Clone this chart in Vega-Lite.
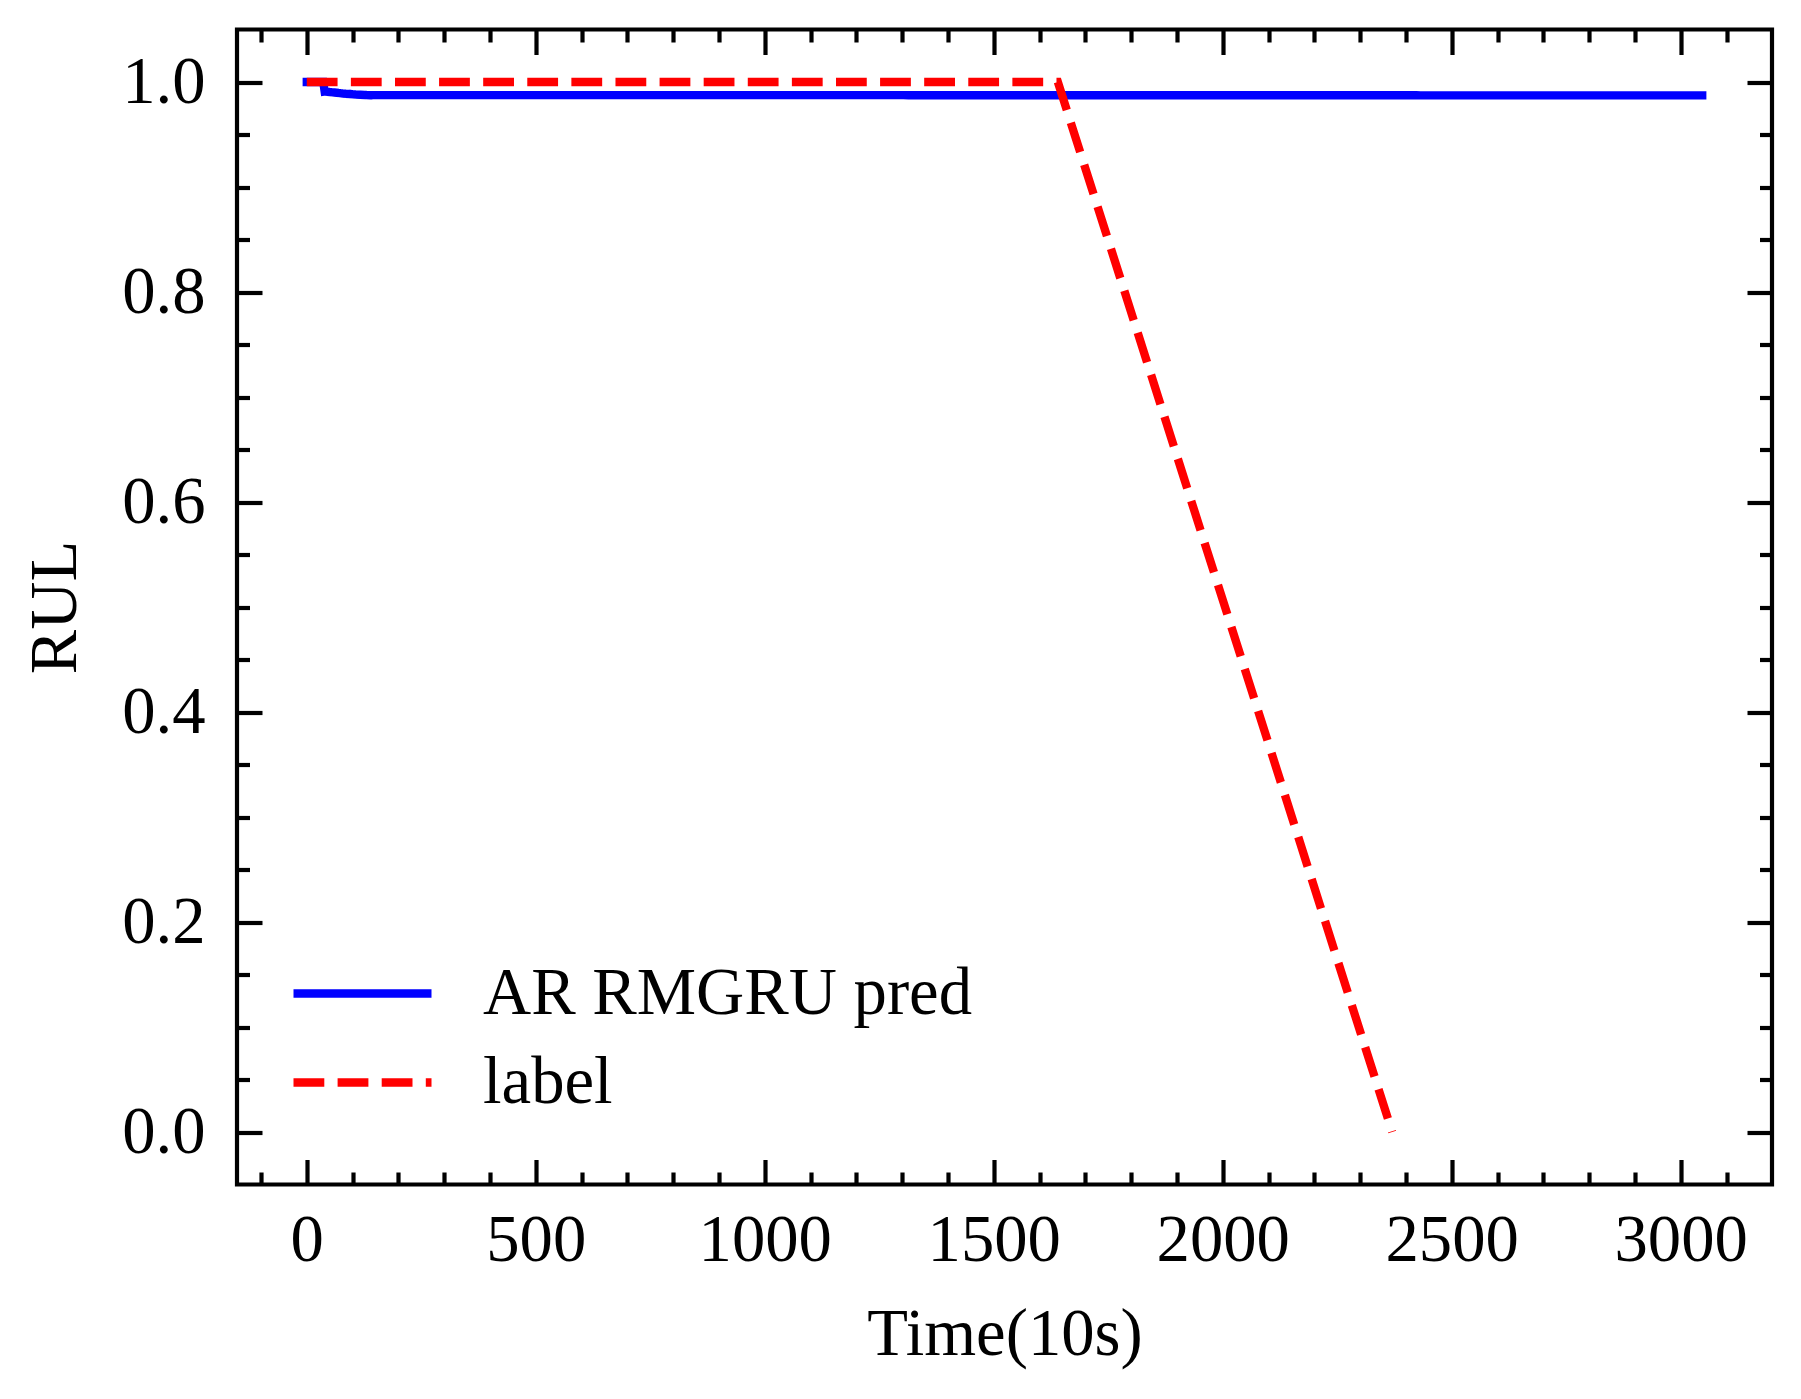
{
  "$schema": "https://vega.github.io/schema/vega-lite/v6.json",
  "autosize": {"type": "none"},
  "width": 1535,
  "height": 1155,
  "padding": {"left": 237, "top": 29.5, "right": 29, "bottom": 214.5},
  "background": "white",
  "config": {
    "view": {"stroke": "black", "strokeWidth": 4.2},
    "axis": {
      "domain": false,
      "grid": false,
      "tickColor": "black",
      "tickWidth": 4.2,
      "labelFont": "Liberation Serif",
      "labelFontSize": 66.7,
      "labelColor": "black",
      "titleFont": "Liberation Serif",
      "titleFontSize": 66.7,
      "titleFontWeight": "normal",
      "titleColor": "black"
    },
    "legend": {
      "orient": "none", "legendX": 52, "legendY": 925, "title": null, "padding": 0,
      "symbolType": "M-1,0H3", "symbolSize": 4761, "symbolStrokeWidth": 8.33,
      "labelFont": "Liberation Serif", "labelFontSize": 66.7, "labelColor": "black",
      "labelOffset": 116, "rowPadding": 16, "labelLimit": 1000
    }
  },
  "data": {
    "values": [
      {"t": 0, "rul": 1.0, "series": "AR RMGRU pred"},
      {"t": 36, "rul": 1.0, "series": "AR RMGRU pred"},
      {"t": 39, "rul": 0.991, "series": "AR RMGRU pred"},
      {"t": 60, "rul": 0.990, "series": "AR RMGRU pred"},
      {"t": 85, "rul": 0.9888, "series": "AR RMGRU pred"},
      {"t": 110, "rul": 0.988, "series": "AR RMGRU pred"},
      {"t": 135, "rul": 0.9875, "series": "AR RMGRU pred"},
      {"t": 3047, "rul": 0.9873, "series": "AR RMGRU pred"},
      {"t": 0, "rul": 1.0, "series": "label"},
      {"t": 1640, "rul": 1.0, "series": "label"},
      {"t": 2370, "rul": 0.0, "series": "label"}
    ]
  },
  "encoding": {
    "x": {"field": "t", "type": "quantitative", "scale": {"domain": [-152.35, 3199.35], "nice": false, "zero": false}},
    "y": {"field": "rul", "type": "quantitative", "scale": {"domain": [-0.05, 1.05], "nice": false, "zero": false}},
    "color": {
      "field": "series", "type": "nominal",
      "scale": {"domain": ["AR RMGRU pred", "label"], "range": ["#0000ff", "#ff0000"]}
    },
    "strokeDash": {
      "field": "series", "type": "nominal",
      "scale": {"domain": ["AR RMGRU pred", "label"], "range": [[1, 0], [30.8, 13.3]]}
    }
  },
  "layer": [
    {
      "transform": [{"filter": "datum.series === 'AR RMGRU pred'"}],
      "mark": {"type": "line", "strokeWidth": 8.33, "strokeCap": "square", "clip": true},
      "encoding": {
        "x": {"field": "t", "type": "quantitative", "axis": {"orient": "bottom", "values": [0, 500, 1000, 1500, 2000, 2500, 3000], "format": "d", "tickSize": -25, "labelPadding": 48, "title": "Time(10s)", "titlePadding": 27}},
        "y": {"field": "rul", "type": "quantitative", "axis": {"orient": "left", "values": [0, 0.2, 0.4, 0.6, 0.8, 1.0], "format": ".1f", "tickSize": -25, "labelPadding": 57, "title": "RUL", "titlePadding": 32}}
      }
    },
    {
      "transform": [{"filter": "datum.series === 'label'"}],
      "mark": {"type": "line", "strokeWidth": 8.33, "strokeCap": "butt", "clip": true},
      "encoding": {
        "x": {"field": "t", "type": "quantitative", "axis": {"orient": "top", "values": [0, 500, 1000, 1500, 2000, 2500, 3000], "tickSize": -25, "labels": false, "title": null}},
        "y": {"field": "rul", "type": "quantitative", "axis": {"orient": "right", "values": [0, 0.2, 0.4, 0.6, 0.8, 1.0], "tickSize": -25, "labels": false, "title": null}}
      }
    },
    {
      "mark": {"type": "point", "opacity": 0},
      "encoding": {
        "color": {"value": "transparent"},
        "strokeDash": {"value": [1, 0]},
        "x": {"field": "t", "type": "quantitative", "axis": {"orient": "bottom", "values": [-100, 100, 200, 300, 400, 600, 700, 800, 900, 1100, 1200, 1300, 1400, 1600, 1700, 1800, 1900, 2100, 2200, 2300, 2400, 2600, 2700, 2800, 2900, 3100], "tickSize": -12.5, "labels": false, "title": null}},
        "y": {"field": "rul", "type": "quantitative", "axis": {"orient": "left", "values": [0.05, 0.1, 0.15, 0.25, 0.3, 0.35, 0.45, 0.5, 0.55, 0.65, 0.7, 0.75, 0.85, 0.9, 0.95], "tickSize": -12.5, "labels": false, "title": null}}
      }
    },
    {
      "mark": {"type": "point", "opacity": 0},
      "encoding": {
        "color": {"value": "transparent"},
        "strokeDash": {"value": [1, 0]},
        "x": {"field": "t", "type": "quantitative", "axis": {"orient": "top", "values": [-100, 100, 200, 300, 400, 600, 700, 800, 900, 1100, 1200, 1300, 1400, 1600, 1700, 1800, 1900, 2100, 2200, 2300, 2400, 2600, 2700, 2800, 2900, 3100], "tickSize": -12.5, "labels": false, "title": null}},
        "y": {"field": "rul", "type": "quantitative", "axis": {"orient": "right", "values": [0.05, 0.1, 0.15, 0.25, 0.3, 0.35, 0.45, 0.5, 0.55, 0.65, 0.7, 0.75, 0.85, 0.9, 0.95], "tickSize": -12.5, "labels": false, "title": null}}
      }
    }
  ],
  "resolve": {"axis": {"x": "independent", "y": "independent"}}
}
